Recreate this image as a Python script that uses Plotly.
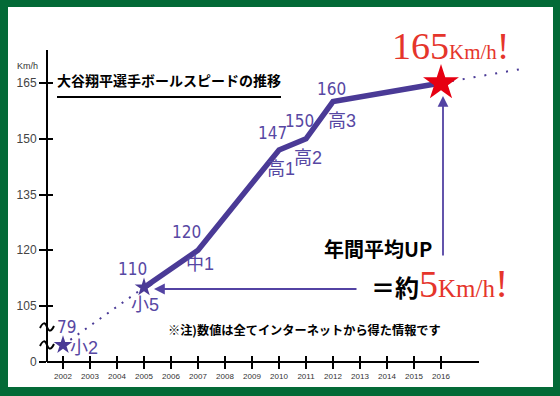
import plotly.graph_objects as go

# ---------------- data ----------------
years = [2002, 2003, 2004, 2005, 2006, 2007, 2008, 2009, 2010, 2011, 2012, 2013, 2014, 2015, 2016]
point_years = [2002, 2005, 2007, 2010, 2011, 2012]
point_speeds = [79, 110, 120, 147, 150, 160]
grades = ["小2", "小5", "中1", "高1", "高2", "高3"]
solid_years = [2005, 2007, 2010, 2011, 2012, 2016]
solid_speeds = [110, 120, 147, 150, 160, 165]
early_years = [2002, 2005]
early_speeds = [79, 110]
trend_years = [2016, 2019]
trend_speeds = [165, 168.8]
top_year = [2016]
top_speed = [165]
y_ticks = [0, 105, 120, 135, 150, 165]

# ---------------- styling ----------------
PURPLE = "#4a3a96"
LABEL_PURPLE = "#5747a3"
RED_TXT = "#e5352b"
RED_STAR = "#e60012"
GREEN = "#036a37"
SANS = "Liberation Sans, Arial, sans-serif"
CJK = "Noto Sans CJK JP, sans-serif"
SERIF = "Liberation Serif, serif"

W, H = 560, 396
ML, MB = 47, 34
PW, PH = W - ML, H - MB

X0 = 2010 - (279 - ML) / 27.0
X1 = 2010 + (W - 279) / 27.0
PXU = 3.7167
Y_TOP = 165 + 83 / PXU
Y_BOT = 165 - (PH - 83) / PXU


def disp(v):
    # broken axis: values below 105 are compressed into the gap under 105
    return v if v >= 105 else 90 + v * (4.5 / 79)


def px(p):
    return (p - ML) / PW


def py(p):
    return (PH - p) / PH


fig = go.Figure()

fig.add_trace(go.Scatter(x=early_years, y=[disp(v) for v in early_speeds], mode="lines",
                         line=dict(color=PURPLE, width=2, dash="2px,7px"), hoverinfo="skip"))
fig.add_trace(go.Scatter(x=trend_years, y=[disp(v) for v in trend_speeds], mode="lines",
                         line=dict(color=PURPLE, width=2, dash="2px,9px"), hoverinfo="skip"))
fig.add_trace(go.Scatter(x=solid_years, y=[disp(v) for v in solid_speeds], mode="lines",
                         line=dict(color=PURPLE, width=5.5), hoverinfo="skip"))
fig.add_trace(go.Scatter(x=[point_years[0], point_years[1]],
                         y=[disp(point_speeds[0]), disp(point_speeds[1])], mode="markers",
                         marker=dict(symbol="star", size=14, color=PURPLE, line=dict(width=0))))
fig.add_trace(go.Scatter(x=top_year, y=[disp(v) for v in top_speed], mode="markers",
                         marker=dict(symbol="star", size=27, color=RED_STAR, line=dict(width=0))))
fig.add_trace(go.Scatter(x=[None], y=[None], xaxis="x2", yaxis="y2", mode="markers", showlegend=False))

annotations = []
val_off = [(3, 18), (-12, 18), (-12, 18), (-7, 17), (-7, 18), (-2, 13)]
grade_off = [(21, -3), (1, -18), (2, -14), (2, -19), (2, -19), (9, -19)]
for yr, sp, gr, vo, go_ in zip(point_years, point_speeds, grades, val_off, grade_off):
    annotations.append(dict(x=yr, y=disp(sp), xref="x", yref="y", showarrow=False,
                            xanchor="center", yanchor="middle",
                            text="<span style='font-stretch:condensed'>" + str(sp) + "</span>",
                            xshift=vo[0], yshift=vo[1],
                            font=dict(family="DejaVu Sans", size=17, color=LABEL_PURPLE)))
    annotations.append(dict(x=yr, y=disp(sp), xref="x", yref="y", text=gr, showarrow=False,
                            xanchor="center", yanchor="middle",
                            xshift=go_[0], yshift=go_[1],
                            font=dict(family=SANS + ", " + CJK, size=18, color=LABEL_PURPLE)))


def note(xp, yp, text, font, xanchor="center", yanchor="middle"):
    annotations.append(dict(x=px(xp), y=py(yp), xref="paper", yref="paper", showarrow=False,
                            xanchor=xanchor, yanchor=yanchor, text=text, font=font))


note(169, 80, "<b>大谷翔平選手ボールスピードの推移</b>", dict(family=CJK, size=14, color="black"))
note(27, 66, "Km/h", dict(family=SANS, size=9, color="#333"))
note(304, 330, "<b>※注)数値は全てインターネットから得た情報です</b>", dict(family=CJK, size=12.2, color="black"))
note(451, 46, ("<span style='font-size:38px'>165</span>"
               "<span style='font-size:21px'>Km/h</span>"
               "<span style='font-size:38px'>!</span>"),
     dict(family=SERIF, size=21, color=RED_TXT))
note(378, 248, "<b>年間平均UP</b>", dict(family=CJK, size=20, color="black"))
note(369, 283, ("<b>＝約</b>"
                "<span style='color:" + RED_TXT + ";font-family:Liberation Serif;font-size:38px'>5</span>"
                "<span style='color:" + RED_TXT + ";font-family:Liberation Serif;font-size:25px'>Km/h</span>"
                "<span style='color:" + RED_TXT + ";font-family:Liberation Serif;font-size:40px'>!</span>"),
     dict(family=CJK, size=24, color="black"), xanchor="left")

# arrows
annotations.append(dict(x=px(443), y=py(96), xref="paper", yref="paper", text="", showarrow=True,
                        ax=0, ay=161, arrowhead=2, arrowsize=1.2, arrowwidth=1.8, arrowcolor="#5343a3"))
annotations.append(dict(x=px(154), y=py(289), xref="paper", yref="paper", text="", showarrow=True,
                        ax=204, ay=0, arrowhead=2, arrowsize=1.2, arrowwidth=1.8, arrowcolor="#5343a3"))


def wave(yc):
    # small wavy axis-break mark, drawn in paper units
    pts = [(40, yc + 1), (43, yc - 5), (45, yc - 5), (47, yc), (49, yc + 5), (51, yc + 5), (54, yc - 1)]
    p = [(px(a), py(b)) for a, b in pts]
    d = "M {},{} C {},{} {},{} {},{} C {},{} {},{} {},{}".format(
        p[0][0], p[0][1], p[1][0], p[1][1], p[2][0], p[2][1], p[3][0], p[3][1],
        p[4][0], p[4][1], p[5][0], p[5][1], p[6][0], p[6][1])
    return dict(type="path", xref="paper", yref="paper", path=d, line=dict(color="black", width=2))


shapes = [
    dict(type="line", xref="paper", yref="paper", x0=0, x1=0, y0=0, y1=py(50), line=dict(color="black", width=2)),
    dict(type="line", xref="paper", yref="paper", x0=0, x1=px(479), y0=0, y1=0, line=dict(color="black", width=2)),
    dict(type="line", xref="paper", yref="paper", x0=px(57), x1=px(281), y0=py(97), y1=py(97),
         line=dict(color="black", width=2)),
    wave(327), wave(345),
    dict(type="rect", xref="paper", yref="paper", x0=px(0), x1=px(8), y0=py(H), y1=py(0), fillcolor=GREEN, line_width=0),
    dict(type="rect", xref="paper", yref="paper", x0=px(553), x1=px(W), y0=py(H), y1=py(0), fillcolor=GREEN, line_width=0),
    dict(type="rect", xref="paper", yref="paper", x0=px(0), x1=px(W), y0=py(7), y1=py(0), fillcolor=GREEN, line_width=0),
    dict(type="rect", xref="paper", yref="paper", x0=px(0), x1=px(W), y0=py(H), y1=py(387), fillcolor=GREEN, line_width=0),
]

tick_y = [disp(v) for v in y_ticks]
common_x = dict(range=[X0, X1], tickvals=years, showgrid=False, zeroline=False, showline=False,
                tickcolor="black", tickwidth=2)
common_y = dict(range=[Y_BOT, Y_TOP], tickvals=tick_y, showgrid=False, zeroline=False, showline=False,
                tickcolor="black", tickwidth=2)

fig.update_layout(
    width=W, height=H,
    margin=dict(l=ML, r=0, t=0, b=MB, pad=0),
    paper_bgcolor="white", plot_bgcolor="white",
    showlegend=False,
    xaxis=dict(**common_x, ticktext=[str(y) for y in years], ticks="outside", ticklen=6,
               tickfont=dict(family=SANS, size=8, color="#333")),
    yaxis=dict(**common_y, ticktext=[str(v) for v in y_ticks], ticks="outside", ticklen=7,
               tickfont=dict(family=SANS, size=12, color="#444")),
    xaxis2=dict(**common_x, overlaying="x", anchor="y2", side="bottom", ticks="inside", ticklen=6,
                showticklabels=False),
    yaxis2=dict(**common_y, overlaying="y", anchor="x2", side="left", ticks="inside", ticklen=6,
                showticklabels=False),
    annotations=annotations,
    shapes=shapes,
)

fig.write_html("out.html")
